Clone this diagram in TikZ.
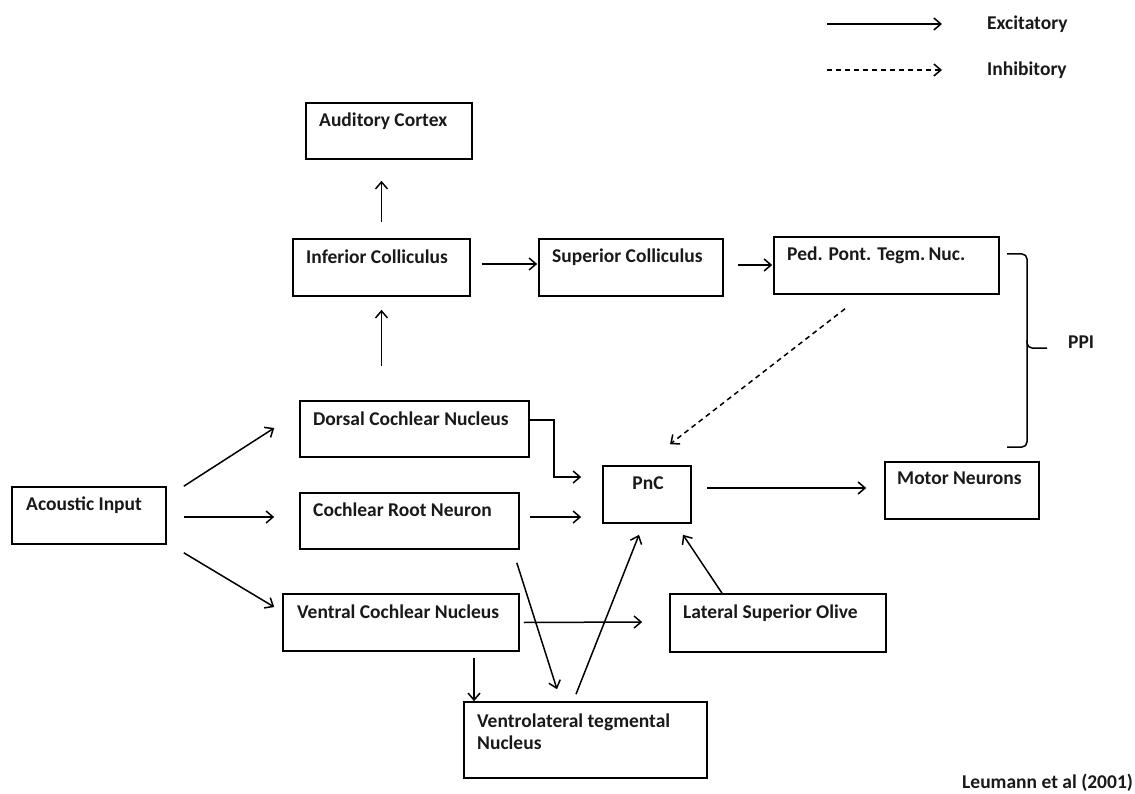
\documentclass[tikz,border=0pt]{standalone}
\usepackage{fontspec}
\setmainfont{Carlito}
\usetikzlibrary{arrows.meta,calc}
\begin{document}
\begin{tikzpicture}[x=1pt,y=-1pt,
  box/.style={draw=black,line width=1.6pt,rectangle,inner sep=0pt},
  txt/.style={anchor=west,inner sep=0pt,font=\fontsize{19.5}{22}\selectfont\bfseries,text=black!90},
  arr/.style={line width=1.5pt,-{Straight Barb[length=7pt,width=12pt,line width=1.5pt]}},
  inh/.style={arr,dash pattern=on 5pt off 4pt}]
\useasboundingbox[fill=white] (0,0) rectangle (1135,794);

% boxes
\node[box,minimum width=166,minimum height=56] (ac) at (389,131) {};
\node[box,minimum width=177,minimum height=57] (ic) at (381.5,267.5) {};
\node[box,minimum width=184,minimum height=57] (sc) at (631,267.5) {};
\node[box,minimum width=225,minimum height=57] (ppt) at (886.5,265.5) {};
\node[box,minimum width=229,minimum height=56] (dcn) at (414.5,429) {};
\node[box,minimum width=219,minimum height=56] (crn) at (409.5,521) {};
\node[box,minimum width=236,minimum height=57] (vcn) at (401,622.5) {};
\node[box,minimum width=154,minimum height=57] (ai) at (89,515.5) {};
\node[box,minimum width=88,minimum height=57] (pnc) at (647,494.5) {};
\node[box,minimum width=154,minimum height=57] (mn) at (962,490.5) {};
\node[box,minimum width=216,minimum height=58] (lso) at (778,623) {};
\node[box,minimum width=243,minimum height=76] (vltn) at (585.5,740) {};

% texts
\node[txt] (tac) at (319,121) {Auditory Cortex};
\node[txt] (tic) at (306,257) {Inferior Colliculus};
\node[txt] (tsc) at (552,257) {Superior Colliculus};
\node[txt] (tppt) at (787,255) {Ped. Pont. Tegm.\,Nuc.};
\node[txt] (tdcn) at (313,419) {Dorsal Cochlear Nucleus};
\node[txt] (tcrn) at (313,510) {Cochlear Root Neuron};
\node[txt] (tvcn) at (297,612) {Ventral Cochlear Nucleus};
\node[txt] (tai) at (26,505) {Acoustic Input};
\node[txt,anchor=center] (tpnc) at (648,483) {PnC};
\node[txt] (tmn) at (897,478) {Motor Neurons};
\node[txt] (tlso) at (683,613) {Lateral Superior Olive};
\node[txt] (tv1) at (477,722) {Ventrolateral tegmental};
\node[txt] (tv2) at (477,743) {Nucleus};
\node[txt] (tppi) at (1068,342) {PPI};
\node[txt] (tex) at (987,24) {Excitatory};
\node[txt] (tin) at (987,70) {Inhibitory};
\node[txt] (tref) at (962,783) {Leumann et al (2001)};

% legend
\coordinate (l1a) at (827,24); \coordinate (l1b) at (942,24);
\coordinate (l2a) at (827,70); \coordinate (l2b) at (942,70);
\draw[arr] (l1a) -- (l1b);
\draw[inh] (l2a) -- (l2b);

% connectors
\draw[arr] ($(ic.north)+(0,-16)$) -- ($(ic.north |- ac.south)+(0,21)$);
\draw[arr] ($(dcn.north -| ic.south)+(0,-34)$) -- ($(ic.south)+(0,13)$);
\draw[arr] ($(ic.east)+(11,-3.5)$) -- ($(sc.west)+(-1,-3.5)$);
\draw[arr] ($(sc.east)+(14,-2.5)$) -- ($(ppt.west)+(-1,-0.5)$);
\draw[inh] ($(ppt.south)+(-41.5,14)$) -- ($(pnc.north)+(23,-21)$);
\draw[arr] ($(ai.north east)+(17,0)$) -- ($(dcn.west)+(-25,-1)$);
\draw[arr] ($(ai.east)+(17,1.5)$) -- ($(crn.west)+(-25,-4)$);
\draw[arr] ($(ai.south east)+(17,8)$) -- ($(vcn.west)+(-8,-15.5)$);
\draw[arr] ($(dcn.east)+(0,-9)$) -| ($(pnc.west)+(-48,-17.5)$) -- ($(pnc.west)+(-21,-17.5)$);
\draw[arr] ($(crn.east)+(10,-4)$) -- ($(pnc.west)+(-21,22.5)$);
\draw[arr] ($(pnc.east)+(15,-6.5)$) -- ($(mn.west)+(-18,-2.5)$);
\draw[arr] ($(vcn.east)+(4,0)$) -- ($(lso.west)+(-27,-1)$);
\draw[arr] ($(vcn.south)+(73,6)$) -- ($(vltn.north)+(-111.5,0)$);
\draw[arr] ($(crn.south east)+(-3,13)$) -- ($(vltn.north)+(-28.5,-12)$);
\draw[arr] ($(vltn.north)+(-9.5,-7)$) -- ($(pnc.south)+(-8,11)$);
\draw[arr] ($(lso.north)+(-56,0)$) -- ($(pnc.south)+(36,11)$);

% brace
\draw[line width=1.5pt,rounded corners=5pt] (1007,254) -- (1027,254) -- (1027,348) -- (1047,348);
\draw[line width=1.5pt,rounded corners=5pt] (1027,340) -- (1027,447) -- (1007,447);
\end{tikzpicture}
\end{document}
